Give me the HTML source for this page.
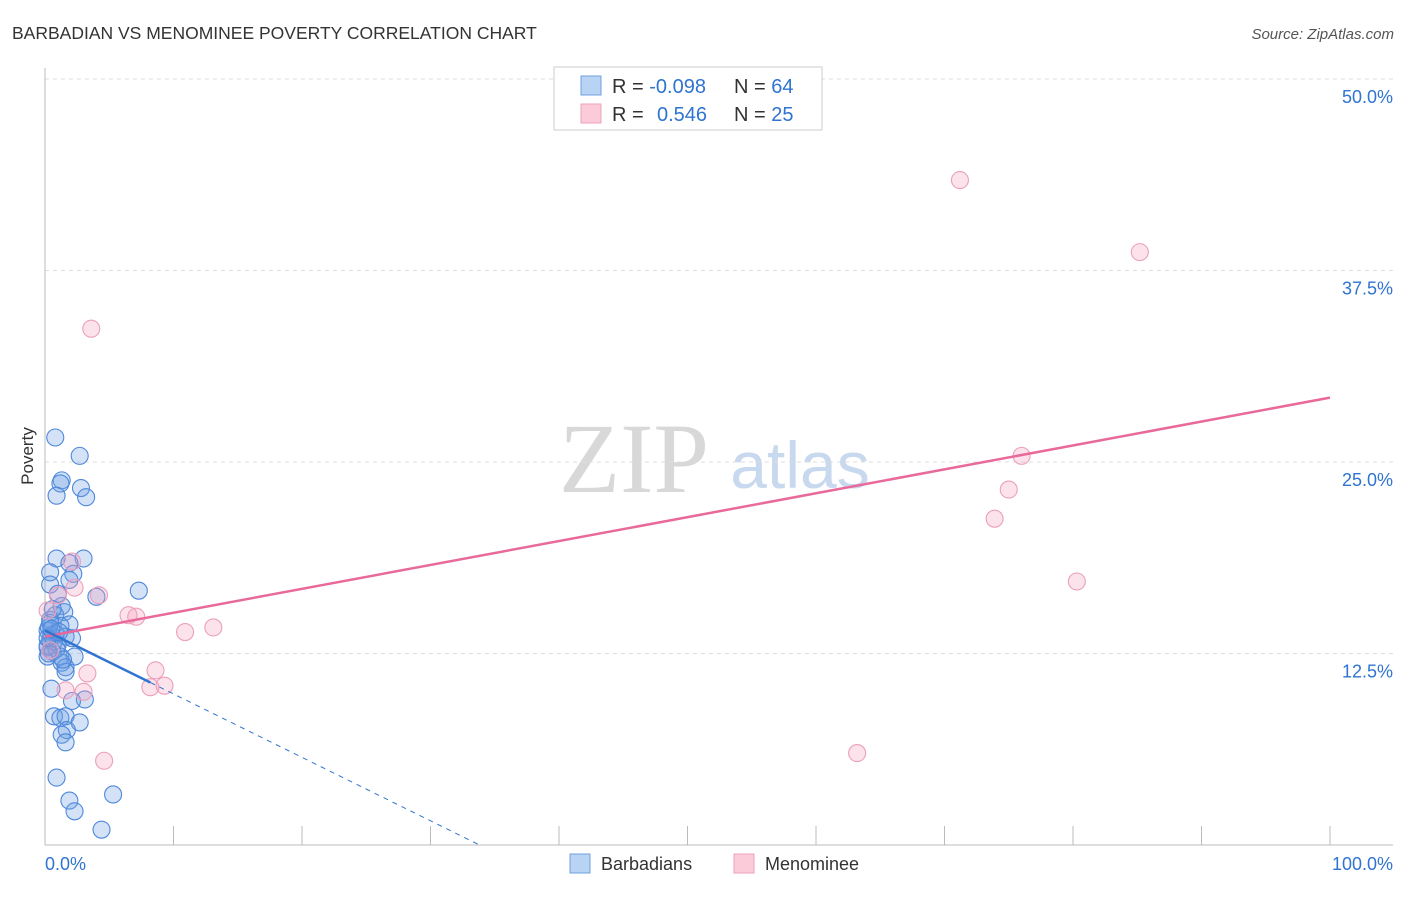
<!DOCTYPE html>
<html><head><meta charset="utf-8">
<style>
body{margin:0;background:#fff;font-family:"Liberation Sans",sans-serif;}
</style></head><body>
<svg id="c" width="1406" height="892" xmlns="http://www.w3.org/2000/svg" style="font-family:'Liberation Sans',sans-serif">
<text x="12" y="39" font-size="17.5" fill="#333">BARBADIAN VS MENOMINEE POVERTY CORRELATION CHART</text>
<text x="1394" y="39" font-size="15" fill="#555" font-style="italic" text-anchor="end">Source: ZipAtlas.com</text>
<text x="634" y="492" font-size="100" fill="#d8d8d8" style="font-family:'Liberation Serif',serif" text-anchor="middle">ZIP</text>
<text x="800" y="488" font-size="66" fill="#c8d8ee" text-anchor="middle">atlas</text>
<text transform="translate(33,456) rotate(-90)" font-size="17" fill="#333" text-anchor="middle">Poverty</text>
<g id="grid"></g><g id="pts"></g><g id="lines"></g>
<rect x="554" y="67" width="268" height="63" fill="#fff" stroke="#ccc"/>
<rect x="581" y="76" width="20" height="19" fill="#b9d3f5" stroke="#6fa0e0"/>
<rect x="581" y="104" width="20" height="19" fill="#fbcbd9" stroke="#eda2bb"/>
<text x="612" y="93" font-size="20" fill="#333">R = <tspan fill="#2f74d0">-0.098</tspan><tspan x="734">N = </tspan><tspan fill="#2f74d0">64</tspan></text>
<text x="612" y="121" font-size="20" fill="#333">R = <tspan x="657" fill="#2f74d0">0.546</tspan><tspan x="734">N = </tspan><tspan fill="#2f74d0">25</tspan></text>
<text x="45" y="870" font-size="18" fill="#2f74d0">0.0%</text>
<text x="1393" y="870" font-size="18" fill="#2f74d0" text-anchor="end">100.0%</text>
<rect x="570" y="854" width="20" height="19" fill="#b9d3f5" stroke="#6fa0e0"/>
<text x="601" y="870" font-size="18" fill="#333">Barbadians</text>
<rect x="734" y="854" width="20" height="19" fill="#fbcbd9" stroke="#eda2bb"/>
<text x="765" y="870" font-size="18" fill="#333">Menominee</text>
</svg>
<script>
const yTicks=[12.5,25,37.5,50];
const yTickLabels=["12.5%","25.0%","37.5%","50.0%"];
const blueX=[0.8,2.7,1.3,1.2,2.8,0.9,3.2,0.9,3.0,1.9,0.4,2.2,1.9,0.4,7.3,1.0,4.0,1.3,1.5,0.8,0.4,1.9,1.2,0.2,0.8,1.6,2.1,0.4,1.0,0.2,0.6,1.2,2.3,0.2,1.3,1.6,1.6,0.5,3.1,2.1,0.7,1.2,1.6,2.7,1.7,1.3,1.6,0.9,5.3,1.9,2.3,4.4,0.3,0.5,0.7,0.2,0.9,0.4,1.1,0.3,0.6,0.2,1.4,0.5];
const blueY=[26.6,25.4,23.8,23.6,23.3,22.8,22.7,18.7,18.7,18.4,17.8,17.7,17.3,17.0,16.6,16.4,16.2,15.6,15.2,15.0,14.7,14.4,14.3,14.0,13.8,13.6,13.5,13.4,13.1,12.9,12.6,12.3,12.3,12.3,11.9,11.6,11.3,10.2,9.5,9.4,8.4,8.3,8.4,8.0,7.5,7.2,6.7,4.4,3.3,2.9,2.2,1.0,14.2,13.7,13.3,13.0,12.8,14.5,13.9,12.5,15.4,13.5,12.1,14.1];
const pinkX=[3.6,71.2,85.2,76.0,75.0,73.9,80.3,63.2,2.1,2.3,4.2,6.5,7.1,10.9,13.1,8.6,8.2,9.3,3.3,3.0,1.6,4.6,1.0,0.2,0.4];
const pinkY=[33.7,43.4,38.7,25.4,23.2,21.3,17.2,6.0,18.5,16.8,16.3,15.0,14.9,13.9,14.2,11.4,10.3,10.4,11.2,10.0,10.1,5.5,16.3,15.3,12.7];
const pinkTrend=[13.6,29.2];
const blueTrend=[14.0,-0.414];
const xTickCount=10;
const X=v=>45+v*12.85, Y=v=>845-v*15.32;
const NS="http://www.w3.org/2000/svg";
function mk(t,a,p){const e=document.createElementNS(NS,t);for(const k in a)e.setAttribute(k,a[k]);document.getElementById(p).appendChild(e);return e;}
yTicks.forEach((t,i)=>{
  const l=mk('line',{x1:45,x2:1393,y1:Y(t),y2:Y(t),stroke:'#ddd','stroke-dasharray':'4,4'},'grid');
  
  
  const tx=mk('text',{x:1393,y:Y(t)+24,'font-size':18,fill:'#2f74d0','text-anchor':'end'},'grid');
  tx.textContent=yTickLabels[i];
  
  
});
for(let i=0;i<=xTickCount;i++){
  const l=mk('line',{x1:X(i*10),x2:X(i*10),y1:826,y2:845,stroke:'#bbb'},'grid');
  
  
}
let a=mk('line',{x1:45,x2:1393,y1:845,y2:845,stroke:'#bbb'},'grid');


a=mk('line',{x1:45,x2:45,y1:68,y2:845,stroke:'#bbb'},'grid');


blueX.forEach((x,i)=>{
  const c=mk('circle',{cx:X(x),cy:Y(blueY[i]),r:8.5,fill:'rgba(110,160,230,0.3)',stroke:'#4f88da','stroke-width':1.1},'pts');
  
  
});
pinkX.forEach((x,i)=>{
  const c=mk('circle',{cx:X(x),cy:Y(pinkY[i]),r:8.5,fill:'rgba(245,160,190,0.3)',stroke:'#eba0bb','stroke-width':1.1},'pts');
  
  
});
let t=mk('line',{x1:X(0),y1:Y(pinkTrend[0]),x2:X(100),y2:Y(pinkTrend[1]),stroke:'#e8699a','stroke-width':2.5},'lines');


const bEnd=8.2, bZero=-blueTrend[0]/blueTrend[1];
t=mk('line',{x1:X(0),y1:Y(blueTrend[0]),x2:X(bEnd),y2:Y(blueTrend[0]+blueTrend[1]*bEnd),stroke:'#2f74d0','stroke-width':2.5},'lines');


t=mk('line',{x1:X(bEnd),y1:Y(blueTrend[0]+blueTrend[1]*bEnd),x2:X(bZero),y2:Y(0),stroke:'#2f74d0','stroke-width':1,'stroke-dasharray':'5,5'},'lines');


</script>
</body></html>
